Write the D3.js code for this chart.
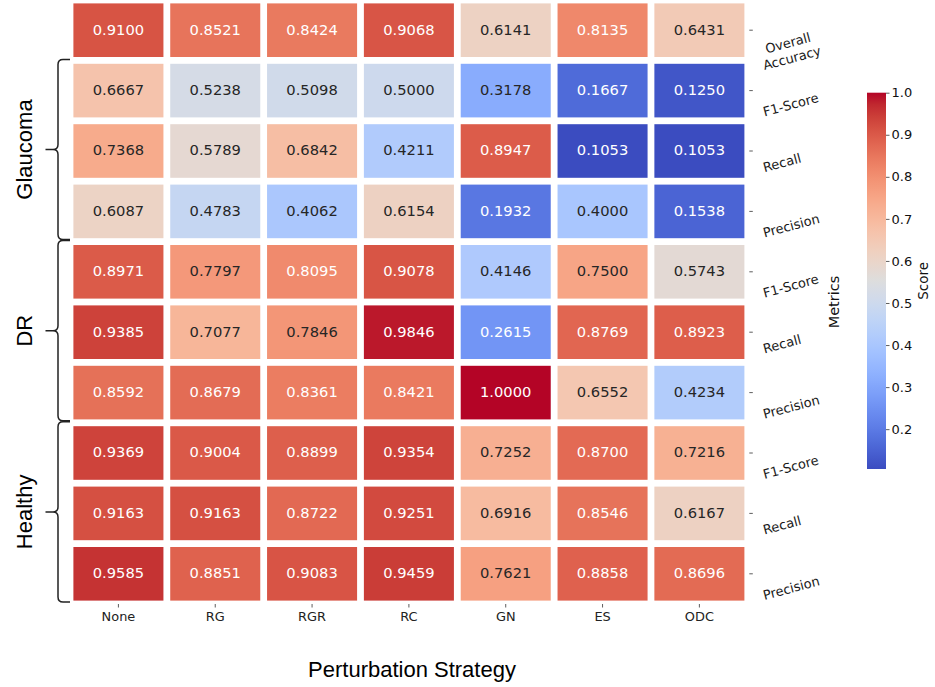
<!DOCTYPE html>
<html>
<head>
<meta charset="utf-8">
<script src="https://cdn.jsdelivr.net/npm/d3@7"></script>
<style>
  html, body { margin: 0; padding: 0; background: #fff; }
  svg { display: block; }
</style>
</head>
<body>
<svg id="chart" width="935" height="687"></svg>
<script>
// ---------- data ----------
const strategies = ["None", "RG", "RGR", "RC", "GN", "ES", "ODC"];
const metricLabels = ["Overall\nAccuracy", "F1-Score", "Recall", "Precision",
  "F1-Score", "Recall", "Precision", "F1-Score", "Recall", "Precision"];
const overallAccuracy = [0.9100, 0.8521, 0.8424, 0.9068, 0.6141, 0.8135, 0.6431];
const glaucomaF1      = [0.6667, 0.5238, 0.5098, 0.5000, 0.3178, 0.1667, 0.1250];
const glaucomaRecall  = [0.7368, 0.5789, 0.6842, 0.4211, 0.8947, 0.1053, 0.1053];
const glaucomaPrec    = [0.6087, 0.4783, 0.4062, 0.6154, 0.1932, 0.4000, 0.1538];
const drF1            = [0.8971, 0.7797, 0.8095, 0.9078, 0.4146, 0.7500, 0.5743];
const drRecall        = [0.9385, 0.7077, 0.7846, 0.9846, 0.2615, 0.8769, 0.8923];
const drPrec          = [0.8592, 0.8679, 0.8361, 0.8421, 1.0000, 0.6552, 0.4234];
const healthyF1       = [0.9369, 0.9004, 0.8899, 0.9354, 0.7252, 0.8700, 0.7216];
const healthyRecall   = [0.9163, 0.9163, 0.8722, 0.9251, 0.6916, 0.8546, 0.6167];
const healthyPrec     = [0.9585, 0.8851, 0.9083, 0.9459, 0.7621, 0.8858, 0.8696];
const groupNames  = ["Glaucoma", "DR", "Healthy"];
const groupStarts = [1, 4, 7];
const groupEnds   = [3, 6, 9];
const colorbarTicks = [0.2, 0.3, 0.4, 0.5, 0.6, 0.7, 0.8, 0.9, 1.0];

const matrix = [overallAccuracy, glaucomaF1, glaucomaRecall, glaucomaPrec,
  drF1, drRecall, drPrec, healthyF1, healthyRecall, healthyPrec];

// coolwarm (Moreland) control points
const cwStops = [
  [59,76,192],[68,90,204],[77,104,215],[87,117,225],[98,130,234],[108,142,241],
  [119,154,247],[130,165,251],[141,176,254],[152,185,255],[163,194,255],[174,201,253],
  [184,208,249],[194,213,244],[204,217,238],[213,219,230],[221,221,221],[229,216,209],
  [236,211,197],[241,204,185],[245,196,173],[247,187,160],[247,177,148],[247,166,135],
  [244,154,123],[241,141,111],[236,127,99],[229,112,88],[222,96,77],[213,80,66],
  [203,62,56],[192,40,47],[180,4,38]];
const cwScale = d3.scaleLinear()
  .domain(cwStops.map((_, i) => i / (cwStops.length - 1)))
  .range(cwStops.map(c => `rgb(${c[0]},${c[1]},${c[2]})`))
  .interpolate(d3.interpolateRgb);

const allVals = matrix.flat();
const vmin = d3.min(allVals), vmax = d3.max(allVals);
const norm = d3.scaleLinear().domain([vmin, vmax]).range([0, 1]).clamp(true);
const color = v => cwScale(norm(v));

function lum(c) {
  const rgb = d3.rgb(c);
  const f = x => { x /= 255; return x <= 0.03928 ? x / 12.92 : Math.pow((x + 0.055) / 1.055, 2.4); };
  return 0.2126 * f(rgb.r) + 0.7152 * f(rgb.g) + 0.0722 * f(rgb.b);
}

// ---------- layout ----------
const svg = d3.select("#chart");
const gridL = 70, gridR = 747.8, gridT = 0, gridB = 604;
const x = d3.scaleBand().domain(strategies).range([gridL, gridR]);
const y = d3.scaleBand().domain(d3.range(metricLabels.length)).range([gridT, gridB]);
const gap = 3.4;

const cells = [];
matrix.forEach((row, i) => row.forEach((v, j) => cells.push({ i, j, v })));

const gCells = svg.append("g");
gCells.selectAll("rect").data(cells).join("rect")
  .attr("x", d => x(strategies[d.j]) + gap)
  .attr("y", d => y(d.i) + gap)
  .attr("width", x.bandwidth() - 2 * gap)
  .attr("height", y.bandwidth() - 2 * gap)
  .attr("fill", d => color(d.v));

gCells.selectAll("text").data(cells).join("text")
  .attr("x", d => x(strategies[d.j]) + x.bandwidth() / 2)
  .attr("y", d => y(d.i) + y.bandwidth() / 2 - 1.2)
  .attr("text-anchor", "middle")
  .attr("dominant-baseline", "central")
  .attr("font-family", "DejaVu Sans")
  .attr("font-size", 14.7)
  .attr("fill", d => lum(color(d.v)) > 0.408 ? "#262626" : "#ffffff")
  .text(d => d.v.toFixed(4));

// x axis
const xAxis = svg.append("g").attr("transform", `translate(0,${gridB})`)
  .call(d3.axisBottom(x).tickSize(3.5).tickPadding(4));
xAxis.select(".domain").remove();
xAxis.selectAll(".tick line").attr("stroke", "#333").attr("stroke-width", 0.8);
xAxis.selectAll(".tick text").attr("font-family", "DejaVu Sans").attr("font-size", 12.9).attr("fill", "#222");

// right axis (ticks only)
const yAxis = svg.append("g").attr("transform", `translate(${gridR + 1.5},0)`)
  .call(d3.axisRight(y).tickSize(3.5).tickFormat(""));
yAxis.select(".domain").remove();
yAxis.selectAll(".tick line").attr("stroke", "#333").attr("stroke-width", 0.8);

// rotated metric labels (left-aligned, top-aligned bbox)
const th = 15 * Math.PI / 180, fsL = 13, capH = 0.73 * fsL, lh = 1.2 * fsL;
metricLabels.forEach((lab, i) => {
  const lines = lab.split("\n");
  const g = svg.append("g");
  const t = g.append("text").attr("font-family", "DejaVu Sans").attr("font-size", fsL)
    .attr("fill", "#1a1a1a").attr("text-anchor", "middle");
  const spans = lines.map((ln, k) => t.append("tspan").attr("x", 0).attr("y", k * lh).text(ln));
  const widths = spans.map(s => s.node().getComputedTextLength());
  const W = d3.max(widths);
  spans.forEach(s => s.attr("x", W / 2));
  const pts = [];
  lines.forEach((ln, k) => {
    const x0 = (W - widths[k]) / 2, x1 = (W + widths[k]) / 2, yb = k * lh;
    [[x0, yb], [x1, yb], [x0, yb - capH], [x1, yb - capH]].forEach(([px, py]) => {
      pts.push([px * Math.cos(th) + py * Math.sin(th), -px * Math.sin(th) + py * Math.cos(th)]);
    });
  });
  const minX = d3.min(pts, p => p[0]), minY = d3.min(pts, p => p[1]);
  const cy = y(i) + y.bandwidth() / 2;
  g.attr("transform", `translate(${762 - minX},${cy + 2 - minY}) rotate(-15)`);
});

// Metrics axis label
svg.append("text")
  .attr("transform", `translate(839,302) rotate(-90)`)
  .attr("text-anchor", "middle")
  .attr("font-family", "DejaVu Sans").attr("font-size", 14.5).attr("fill", "#111")
  .text("Metrics");

// x axis title
svg.append("text")
  .attr("x", 412).attr("y", 677)
  .attr("text-anchor", "middle")
  .attr("font-family", "Liberation Sans, Arial, sans-serif").attr("font-size", 22).attr("fill", "#000")
  .text("Perturbation Strategy");

// group braces & labels
const bx = 58, bEnd = 70, bTip = 45.5, r = 5;
groupNames.forEach((name, k) => {
  const y1 = y(groupStarts[k]) - 1;
  const y2 = y(groupEnds[k]) + y.bandwidth() - 2;
  const ym = (y1 + y2) / 2;
  const p = `M${bEnd},${y1} L${bx + r},${y1} Q${bx},${y1} ${bx},${y1 + r} ` +
    `L${bx},${ym - r} Q${bx},${ym} ${bx - r},${ym} L${bTip},${ym} ` +
    `M${bx - r},${ym} Q${bx},${ym} ${bx},${ym + r} ` +
    `L${bx},${y2 - r} Q${bx},${y2} ${bx + r},${y2} L${bEnd},${y2}`;
  svg.append("path").attr("d", p).attr("fill", "none")
    .attr("stroke", "#222").attr("stroke-width", 1.5);
  svg.append("text")
    .attr("transform", `translate(32,${ym}) rotate(-90)`)
    .attr("text-anchor", "middle")
    .attr("font-family", "Liberation Sans, Arial, sans-serif").attr("font-size", 22).attr("fill", "#000")
    .text(name);
});

// colorbar
const cbX = 867, cbW = 19, cbTop = 92.7, cbBot = 469;
const cbScale = d3.scaleLinear().domain([vmin, vmax]).range([cbBot, cbTop]);
const defs = svg.append("defs");
const grad = defs.append("linearGradient").attr("id", "cbgrad")
  .attr("x1", 0).attr("y1", 1).attr("x2", 0).attr("y2", 0);
d3.range(0, 1.0001, 1 / 64).forEach(t => {
  grad.append("stop").attr("offset", t).attr("stop-color", cwScale(t));
});
svg.append("rect").attr("x", cbX).attr("y", cbTop).attr("width", cbW)
  .attr("height", cbBot - cbTop).attr("fill", "url(#cbgrad)");
const cbAxis = svg.append("g").attr("transform", `translate(${cbX + cbW},0)`)
  .call(d3.axisRight(cbScale).tickValues(colorbarTicks).tickSize(3.5).tickPadding(2)
    .tickFormat(d3.format(".1f")));
cbAxis.select(".domain").remove();
cbAxis.selectAll(".tick line").attr("stroke", "#333").attr("stroke-width", 0.8);
cbAxis.selectAll(".tick text").attr("font-family", "DejaVu Sans").attr("font-size", 13).attr("fill", "#111");

svg.append("text")
  .attr("transform", `translate(928,${(cbTop + cbBot) / 2}) rotate(-90)`)
  .attr("text-anchor", "middle")
  .attr("font-family", "DejaVu Sans").attr("font-size", 13.5).attr("fill", "#111")
  .text("Score");
</script>
</body>
</html>
